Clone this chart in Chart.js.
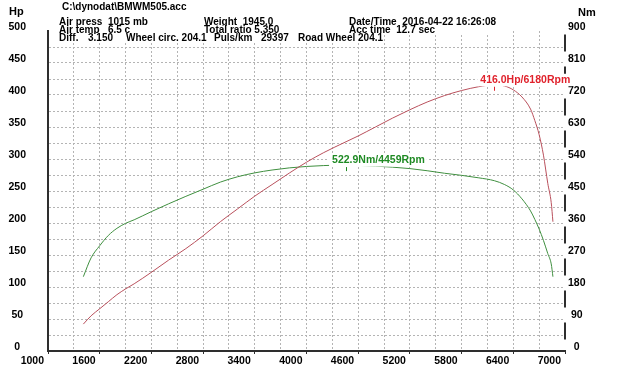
<!DOCTYPE html>
<html>
<head>
<meta charset="utf-8">
<script src="https://cdn.jsdelivr.net/npm/chart.js@4.4.1/dist/chart.umd.min.js"></script>
<style>
  html, body { margin: 0; padding: 0; background: #fff; }
  #wrap { width: 620px; height: 391px; }
</style>
</head>
<body>
<div id="wrap"><canvas id="dyno" width="620" height="391"></canvas></div>
<script>
// -- DATA ----------------------------------------------
const rpm = [1410, 1500, 1600, 1700, 1800, 1900, 2000, 2200, 2400, 2600, 2800, 3000, 3200, 3400, 3600,
  3800, 4000, 4200, 4459, 4600, 4800, 5000, 5200, 5400, 5600, 5800, 6000, 6180, 6300, 6400,
  6500, 6600, 6650, 6700, 6750, 6800, 6840, 6860];
const powerHp = [42, 55, 66, 77, 88, 97, 105, 123, 142, 160, 180, 202, 222, 242, 260,
  278, 295, 310, 327, 336, 350, 364, 377, 389, 399, 407, 413, 416, 414, 408,
  397, 378, 360, 338, 306, 262, 232, 202];
const torqueNm = [209, 262, 296, 325, 345, 359, 369, 392, 414, 435, 455, 475, 490, 501, 509,
  515, 519, 521.5, 522.9, 522, 520, 517, 513, 507, 500, 494, 487, 479, 468, 453,
  428, 394, 370, 343, 311, 274, 245, 209];

const rpmTicks = [1000, 1600, 2200, 2800, 3400, 4000, 4600, 5200, 5800, 6400, 7000];
const hpTicks = [0, 50, 100, 150, 200, 250, 300, 350, 400, 450, 500];
const nmTicks = [0, 90, 180, 270, 360, 450, 540, 630, 720, 810, 900];

const peakPower = [6180, 416.0];
const peakTorque = [4459, 522.9];

const fileName = "C:\\dynodat\\BMWM505.acc";
const infoCol1 = ["Air press  1015 mb", "Air temp   6.5 c"];
const infoCol2 = ["Weight  1945.0", "Total ratio 5.350"];
const infoCol3 = ["Date/Time  2016-04-22 16:26:08", "Acc time  12.7 sec"];
const infoRow3 = ["Diff.", "3.150", "Wheel circ. 204.1", "Puls/km", "29397", "Road Wheel 204.1"];

// -- STYLE ---------------------------------------------
const FONT = '"Liberation Sans", Arial, sans-serif';
const RED_LINE = "#b9505c";
const GREEN_LINE = "#3f8f3f";
const RED_TEXT = "#e0222c";
const GREEN_TEXT = "#1f8a24";
const GRID = "#b4b4b4";
const AXIS = "#2e2e2e";

function pts(values) {
  return rpm.map((r, i) => ({ x: r, y: values[i] }));
}

// -- DECOR PLUGIN --------------------------------------
const dynoDecor = {
  id: "dynoDecor",
  afterDraw(chart) {
    const { ctx, scales } = chart;
    const xs = scales.x;
    const yHp = scales.yHp;
    const yNm = scales.yNm;
    ctx.save();

    // right axis: segments broken by its labels
    ctx.strokeStyle = AXIS;
    ctx.lineWidth = 2;
    const rx = yNm.left;
    const cy = nmTicks.map((v) => yNm.getPixelForValue(v) - 4);
    for (let i = 0; i < cy.length - 1; i++) {
      ctx.beginPath();
      ctx.moveTo(rx, cy[i + 1] + 7.5);
      ctx.lineTo(rx, cy[i] - 7.5);
      ctx.stroke();
    }

    // axis titles
    ctx.fillStyle = "#000";
    ctx.textBaseline = "middle";
    ctx.textAlign = "left";
    ctx.font = "bold 11px " + FONT;
    ctx.fillText("Hp", 9, 12);
    ctx.fillText("Nm", 578, 13);

    // header
    ctx.font = "bold 10px " + FONT;
    ctx.fillText(fileName, 62, 7);
    const rows = [22, 30];
    rows.forEach((y, i) => {
      ctx.fillStyle = "#fff";
      ctx.fillRect(57, y - 4, 450, 9);
      ctx.fillStyle = "#000";
      ctx.fillText(infoCol1[i], 59, y);
      ctx.fillText(infoCol2[i], 204, y);
      ctx.fillText(infoCol3[i], 349, y);
    });
    ctx.fillStyle = "#fff";
    ctx.fillRect(57, 34, 326, 9);
    ctx.fillStyle = "#000";
    const row3x = [59, 88, 126, 214, 261, 298];
    infoRow3.forEach((t, i) => ctx.fillText(t, row3x[i], 38));

    // peak labels
    ctx.font = "bold 10.5px " + FONT;
    const peaks = [
      [peakPower, yHp, RED_TEXT, peakPower[1].toFixed(1) + "Hp/" + peakPower[0] + "Rpm"],
      [peakTorque, yNm, GREEN_TEXT, peakTorque[1].toFixed(1) + "Nm/" + peakTorque[0] + "Rpm"]
    ];
    peaks.forEach(([pk, ys, color, label]) => {
      const px = xs.getPixelForValue(pk[0]);
      const py = ys.getPixelForValue(pk[1]);
      const w = ctx.measureText(label).width;
      ctx.fillStyle = "#fff";
      ctx.fillRect(px - 17, py - 11, w + 5, 12.5);
      ctx.fillStyle = color;
      ctx.fillText(label, px - 14, py - 4.5);
      ctx.strokeStyle = color;
      ctx.lineWidth = 1;
      ctx.beginPath();
      ctx.moveTo(Math.round(px) + 0.5, py + 2);
      ctx.lineTo(Math.round(px) + 0.5, py + 6);
      ctx.stroke();
    });

    ctx.restore();
  }
};

// -- RENDER --------------------------------------------
const tickFont = { family: FONT, size: 10.5, weight: "bold" };

new Chart(document.getElementById("dyno"), {
  type: "line",
  data: {
    datasets: [
      {
        label: "Power",
        data: pts(powerHp),
        yAxisID: "yHp",
        borderColor: RED_LINE,
        borderWidth: 1,
        pointRadius: 0,
        cubicInterpolationMode: "monotone",
        fill: false
      },
      {
        label: "Torque",
        data: pts(torqueNm),
        yAxisID: "yNm",
        borderColor: GREEN_LINE,
        borderWidth: 1,
        pointRadius: 0,
        cubicInterpolationMode: "monotone",
        fill: false
      }
    ]
  },
  options: {
    responsive: false,
    animation: false,
    devicePixelRatio: 1,
    layout: { padding: { top: 31, left: 0, right: 0, bottom: 0 } },
    plugins: {
      legend: { display: false },
      tooltip: { enabled: false }
    },
    scales: {
      x: {
        type: "linear",
        position: "bottom",
        min: 1000,
        max: 7000,
        afterFit: (s) => { s.height = 40; },
        ticks: {
          stepSize: 300,
          autoSkip: false,
          maxRotation: 0,
          align: "end",
          labelOffset: -4,
          padding: 1,
          color: "#000",
          font: tickFont,
          callback: (v) => (rpmTicks.includes(v) ? String(v) : "")
        },
        grid: {
          color: (c) => (c.tick && (c.tick.value === 1000 || c.tick.value === 7000) ? "rgba(0,0,0,0)" : GRID),
          lineWidth: 1,
          drawTicks: true,
          tickLength: 3,
          tickWidth: 1,
          tickBorderDash: [],
          tickColor: (c) => (c.tick && rpmTicks.includes(c.tick.value) ? AXIS : "rgba(0,0,0,0)")
        },
        border: { display: true, color: AXIS, width: 2, dash: [2, 2] }
      },
      yHp: {
        type: "linear",
        position: "left",
        min: 0,
        max: 500,
        afterFit: (s) => { s.width = 48; },
        ticks: {
          stepSize: 25,
          autoSkip: false,
          crossAlign: "center",
          padding: 22,
          labelOffset: -4,
          color: "#000",
          font: tickFont,
          callback: (v) => (hpTicks.includes(v) ? String(v) : "")
        },
        grid: {
          color: (c) => (c.tick && (c.tick.value === 500 || c.tick.value === 0) ? "rgba(0,0,0,0)" : GRID),
          lineWidth: 1,
          drawTicks: false
        },
        border: { display: true, color: AXIS, width: 2, dash: [2, 2] }
      },
      yNm: {
        type: "linear",
        position: "right",
        min: 0,
        max: 900,
        afterFit: (s) => { s.width = 55; },
        ticks: {
          stepSize: 90,
          autoSkip: false,
          crossAlign: "center",
          padding: 3,
          labelOffset: -4,
          color: "#000",
          font: tickFont,
          callback: (v) => (nmTicks.includes(v) ? String(v) : "")
        },
        grid: { drawOnChartArea: false, drawTicks: false },
        border: { display: false }
      }
    }
  },
  plugins: [dynoDecor]
});
</script>
</body>
</html>
